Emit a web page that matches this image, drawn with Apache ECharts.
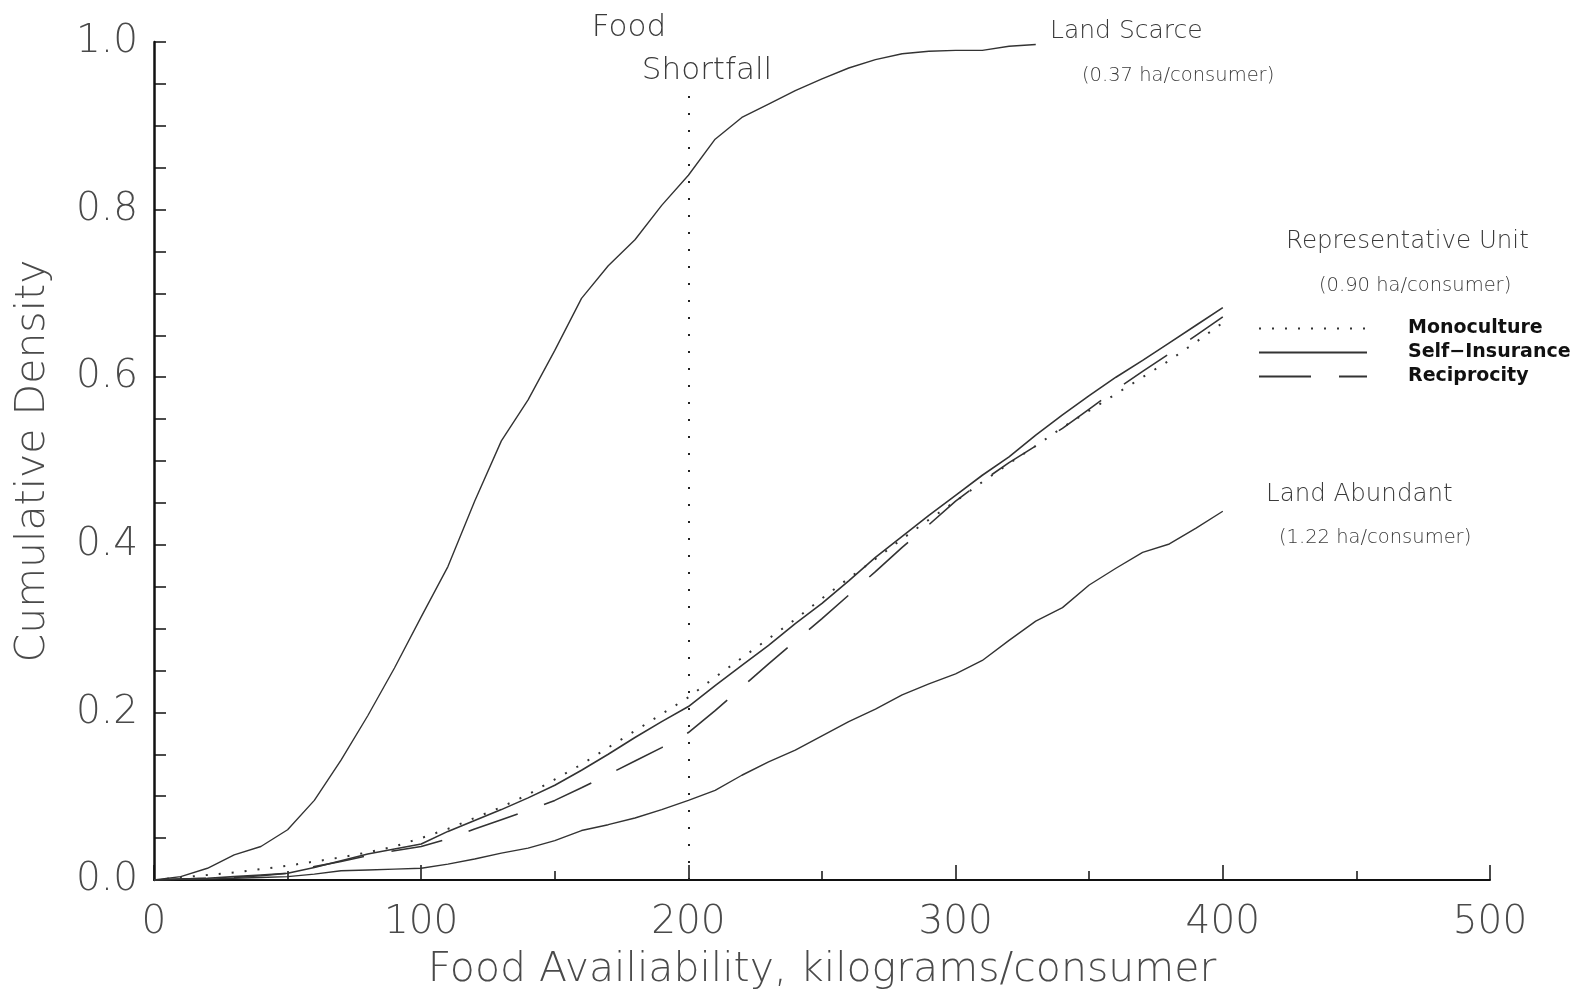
<!DOCTYPE html>
<html>
<head>
<meta charset="utf-8">
<script src="https://cdn.jsdelivr.net/npm/echarts@6/dist/echarts.min.js"></script>
<style>
  html, body { margin: 0; padding: 0; background: #fff; }
  #chart { width: 1581px; height: 993px; }
</style>
</head>
<body>
<div id="chart"></div>
<script>
// x values (kg/consumer)
const xScarce = [0, 10, 20, 30, 40, 50, 60, 70, 80, 90, 100, 110, 120, 130, 140, 150, 160,
  170, 180, 190, 200, 210, 220, 230, 240, 250, 260, 270, 280, 290, 300, 310, 320, 330];
const xRep = [0, 10, 20, 30, 40, 50, 60, 70, 80, 90, 100, 110, 120, 130, 140, 150, 160,
  170, 180, 190, 200, 210, 220, 230, 240, 250, 260, 270, 280, 290, 300, 310, 320, 330,
  340, 350, 360, 370, 380, 390, 400];

// cumulative density
const landScarce = [0, 0.004, 0.014, 0.03, 0.04, 0.06, 0.095, 0.143, 0.196, 0.253, 0.314,
  0.374, 0.452, 0.524, 0.573, 0.632, 0.694, 0.733, 0.764, 0.805, 0.841, 0.884, 0.91, 0.926,
  0.942, 0.956, 0.969, 0.979, 0.986, 0.989, 0.99, 0.99, 0.995, 0.997];
const monoculture = [0, 0.003, 0.006, 0.009, 0.013, 0.017, 0.022, 0.027, 0.033, 0.04, 0.05,
  0.061, 0.074, 0.087, 0.102, 0.12, 0.138, 0.158, 0.178, 0.198, 0.218, 0.242, 0.265, 0.288,
  0.311, 0.336, 0.36, 0.383, 0.407, 0.43, 0.452, 0.475, 0.497, 0.518, 0.54, 0.56, 0.58, 0.6,
  0.62, 0.642, 0.665];
const selfInsurance = [0, 0.001, 0.002, 0.004, 0.006, 0.008, 0.015, 0.023, 0.031, 0.037,
  0.043, 0.058, 0.071, 0.084, 0.098, 0.113, 0.131, 0.15, 0.17, 0.189, 0.207, 0.232, 0.256,
  0.28, 0.306, 0.33, 0.357, 0.385, 0.41, 0.435, 0.459, 0.483, 0.505, 0.531, 0.555, 0.578,
  0.6, 0.62, 0.641, 0.662, 0.683];
const reciprocity = [0, 0.001, 0.002, 0.003, 0.005, 0.008, 0.016, 0.022, 0.029, 0.035, 0.04,
  0.049, 0.061, 0.072, 0.083, 0.095, 0.11, 0.126, 0.142, 0.158, 0.176, 0.202, 0.23, 0.258,
  0.285, 0.312, 0.34, 0.368, 0.397, 0.424, 0.452, 0.476, 0.498, 0.518, 0.539, 0.562, 0.585,
  0.607, 0.628, 0.65, 0.672];
const landAbundant = [0, 0.001, 0.001, 0.002, 0.003, 0.004, 0.007, 0.011, 0.012, 0.013,
  0.014, 0.019, 0.025, 0.032, 0.038, 0.047, 0.059, 0.066, 0.074, 0.084, 0.095, 0.107, 0.125,
  0.141, 0.155, 0.172, 0.189, 0.204, 0.221, 0.234, 0.246, 0.262, 0.286, 0.309, 0.325, 0.352,
  0.372, 0.391, 0.401, 0.42, 0.44];

const shortfallX = 200;
const shortfallTop = 0.94;

const FONT = '"DejaVu Sans", sans-serif';
const GREY = '#4a4a4a';
const LINE = '#333';

const pairs = (xs, ys) => ys.map((y, i) => [xs[i], y]);

const chart = echarts.init(document.getElementById('chart'));

const textEl = (x, y, text, size, extra) => ({
  type: 'text',
  x,
  y,
  style: Object.assign({
    text,
    fontSize: size,
    fontFamily: FONT,
    fontWeight: 300,
    fill: '#3a3a3a',
    align: 'left',
    verticalAlign: 'middle',
  }, extra || {}),
});

const tickFont = { fontFamily: FONT, fontSize: 39, fontWeight: 200, color: GREY };
const nameFont = { fontFamily: FONT, fontSize: 41, fontWeight: 200, color: GREY };

chart.setOption({
  backgroundColor: '#fff',
  animation: false,
  grid: { left: 154, right: 91, top: 42, bottom: 113, outerBoundsMode: 'none', containLabel: false },
  legend: {
    left: 1253,
    top: 314,
    orient: 'vertical',
    itemWidth: 108,
    itemHeight: 14,
    itemGap: 5,
    data: ['Monoculture', 'Self\u2212Insurance', 'Reciprocity'],
    itemStyle: { opacity: 0 },
    textStyle: {
      fontFamily: FONT,
      fontSize: 19,
      fontWeight: 'bold',
      color: '#111',
      padding: [0, 0, 0, 36],
    },
  },
  xAxis: [{
    type: 'value',
    min: 0,
    max: 500,
    interval: 50,
    name: 'Food Availiability, kilograms/consumer',
    nameLocation: 'middle',
    nameGap: 70,
    nameTextStyle: nameFont,
    axisLine: { lineStyle: { color: '#111', width: 2 } },
    axisTick: { inside: true, length: 9, lineStyle: { color: '#111', width: 1.5 } },
    axisLabel: Object.assign({
      margin: 23,
      formatter: (v) => (v % 100 === 0 ? String(v) : ''),
    }, tickFont),
    splitLine: { show: false },
  }, {
    type: 'value',
    position: 'bottom',
    offset: 0,
    min: 0,
    max: 500,
    interval: 100,
    axisLine: { show: false },
    axisTick: { inside: true, length: 15, lineStyle: { color: '#111', width: 1.5 } },
    axisLabel: { show: false },
    splitLine: { show: false },
  }],
  yAxis: {
    type: 'value',
    min: 0,
    max: 1,
    interval: 0.05,
    name: 'Cumulative Density',
    nameLocation: 'middle',
    nameGap: 100,
    nameTextStyle: nameFont,
    axisLine: { show: true, lineStyle: { color: '#111', width: 2.5 } },
    axisTick: { show: true, inside: true, length: 12, lineStyle: { color: '#111', width: 1.5 } },
    axisLabel: Object.assign({
      margin: 16,
      formatter: (v) => {
        const k = v * 5;
        return Math.abs(k - Math.round(k)) < 1e-6 ? v.toFixed(1) : '';
      },
    }, tickFont),
    splitLine: { show: false },
  },
  series: [
    {
      name: 'Land Scarce',
      type: 'line',
      symbol: 'none',
      data: pairs(xScarce, landScarce),
      lineStyle: { color: LINE, width: 1.4 },
      markLine: {
        silent: true,
        symbol: 'none',
        label: { show: false },
        lineStyle: { color: '#222', width: 2, type: [2, 15] },
        data: [[{ coord: [shortfallX, 0] }, { coord: [shortfallX, shortfallTop] }]],
      },
    },
    {
      name: 'Monoculture',
      type: 'line',
      symbol: 'none',
      data: pairs(xRep, monoculture),
      itemStyle: { color: LINE },
      lineStyle: { color: LINE, width: 2, type: [2, 11] },
    },
    {
      name: 'Self\u2212Insurance',
      type: 'line',
      symbol: 'none',
      data: pairs(xRep, selfInsurance),
      itemStyle: { color: LINE },
      lineStyle: { color: LINE, width: 1.6 },
    },
    {
      name: 'Reciprocity',
      type: 'line',
      symbol: 'none',
      data: pairs(xRep, reciprocity),
      itemStyle: { color: LINE },
      lineStyle: { color: LINE, width: 1.6, type: [52, 28] },
    },
    {
      name: 'Land Abundant',
      type: 'line',
      symbol: 'none',
      data: pairs(xRep, landAbundant),
      lineStyle: { color: LINE, width: 1.4 },
    },
  ],
  graphic: [
    textEl(629, 28, 'Food', 31, { align: 'center' }),
    textEl(707, 71, 'Shortfall', 31, { align: 'center' }),
    textEl(1050, 31, 'Land Scarce', 25),
    textEl(1082, 76, '(0.37 ha/consumer)', 19.5),
    textEl(1286, 242, 'Representative Unit', 24.5),
    textEl(1319, 286, '(0.90 ha/consumer)', 19.5),
    textEl(1266, 495, 'Land Abundant', 24.5),
    textEl(1279, 538, '(1.22 ha/consumer)', 19.5),
  ],
});
</script>
</body>
</html>
